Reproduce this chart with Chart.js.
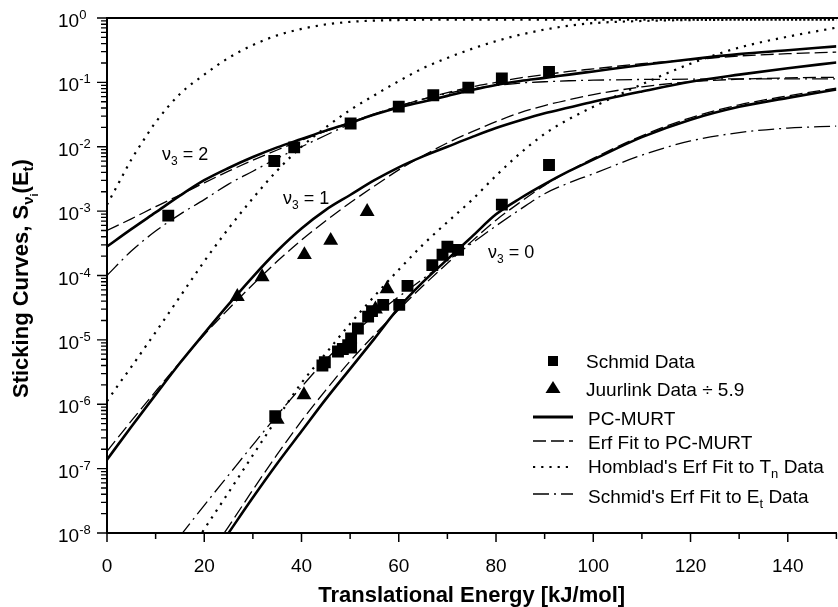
<!DOCTYPE html>
<html><head><meta charset="utf-8">
<script src="https://cdn.jsdelivr.net/npm/chart.js@4.4.1/dist/chart.umd.min.js"></script>
<style>html,body{margin:0;padding:0;overflow:hidden;background:#fff;width:838px;height:607px}canvas{display:block}</style>
</head><body>
<canvas id="c" width="845" height="607"></canvas>
<script>
// ---------- data ----------
const energy = [0,2.5,5,7.5,10,15,20,25,30,35,40,45,50,55,60,65,70,75,80,85,90,95,100,110,120,130,140,150];

// v3 = 2
const pcMurtV2    = [2.82e-4,null,5.25e-4,null,9.55e-4,1.74e-3,3.02e-3,4.68e-3,6.92e-3,9.77e-3,1.32e-2,1.78e-2,2.34e-2,3.16e-2,4.07e-2,5.01e-2,6.17e-2,7.59e-2,9.12e-2,0.105,0.1175,0.132,0.148,0.186,0.229,0.275,0.316,0.363];
const erfFitV2    = [5.01e-4,null,7.59e-4,null,1.175e-3,1.78e-3,2.75e-3,4.17e-3,6.17e-3,8.91e-3,1.26e-2,1.74e-2,2.40e-2,3.24e-2,4.27e-2,5.50e-2,6.92e-2,8.51e-2,0.100,0.1175,0.132,0.148,0.162,0.195,0.224,0.257,0.279,0.295];
const hombladV2   = [1.26e-3,2.82e-3,6.31e-3,1.26e-2,2.40e-2,6.61e-2,0.132,0.240,0.380,0.537,0.676,0.794,0.871,0.912,0.93,0.94,0.945,0.945,0.945,0.945,0.945,0.945,0.945,0.945,0.945,0.945,0.945,0.945];
const schmidFitV2 = [1.0e-4,null,2.40e-4,null,4.90e-4,8.91e-4,1.51e-3,2.63e-3,4.17e-3,6.61e-3,1.0e-2,1.51e-2,2.24e-2,3.16e-2,4.27e-2,5.50e-2,6.76e-2,7.94e-2,8.91e-2,9.77e-2,0.1023,0.106,0.108,0.111,0.112,0.1135,0.1135,0.1135];

// v3 = 1
const pcMurtV1    = [1.38e-7,null,4.47e-7,null,1.41e-6,4.37e-6,1.26e-5,3.55e-5,9.55e-5,2.40e-4,5.37e-4,1.047e-3,1.78e-3,3.02e-3,4.79e-3,7.08e-3,1.0e-2,1.41e-2,1.95e-2,2.57e-2,3.31e-2,4.07e-2,5.01e-2,7.24e-2,0.1023,0.132,0.166,0.204];
const erfFitV1    = [1.86e-7,null,5.50e-7,null,1.585e-6,4.47e-6,1.20e-5,3.02e-5,7.24e-5,1.66e-4,3.55e-4,7.08e-4,1.35e-3,2.45e-3,4.37e-3,7.24e-3,1.148e-2,1.70e-2,2.45e-2,3.39e-2,4.37e-2,5.37e-2,6.46e-2,8.51e-2,0.1023,0.112,0.1175,0.120];
const hombladV1   = [1.12e-6,2.09e-6,3.80e-6,7.08e-6,1.32e-5,4.68e-5,1.66e-4,5.37e-4,1.585e-3,4.27e-3,1.0e-2,2.0e-2,3.72e-2,6.31e-2,0.1047,0.166,0.240,0.331,0.437,0.550,0.661,0.759,0.832,0.90,0.93,0.94,0.945,0.945];

// v3 = 0
const pcMurtV0    = [null,null,null,null,null,null,2.82e-9,1.0e-8,3.55e-8,1.20e-7,3.80e-7,1.20e-6,3.55e-6,1.047e-5,3.16e-5,7.94e-5,1.78e-4,3.98e-4,8.91e-4,1.585e-3,2.63e-3,4.17e-3,6.31e-3,1.41e-2,2.63e-2,4.17e-2,5.75e-2,7.76e-2];
const erfFitV0    = [null,null,null,null,null,null,3.55e-9,1.26e-8,4.68e-8,1.66e-7,5.50e-7,1.66e-6,4.68e-6,1.20e-5,2.95e-5,6.92e-5,1.55e-4,3.39e-4,7.24e-4,1.38e-3,2.51e-3,4.17e-3,6.61e-3,1.48e-2,2.82e-2,4.47e-2,6.17e-2,8.13e-2];
const hombladV0   = [null,null,null,null,null,3.02e-9,1.148e-8,4.27e-8,1.62e-7,6.03e-7,2.14e-6,6.17e-6,1.78e-5,4.79e-5,1.23e-4,3.02e-4,6.76e-4,1.48e-3,3.55e-3,7.94e-3,1.585e-2,2.69e-2,4.17e-2,9.33e-2,0.195,0.347,0.513,0.708];
const schmidFitV0 = [null,null,null,null,null,8.91e-9,2.69e-8,7.94e-8,2.34e-7,6.76e-7,1.86e-6,4.90e-6,1.12e-5,2.40e-5,4.68e-5,8.91e-5,1.70e-4,3.16e-4,5.89e-4,1.07e-3,1.86e-3,2.75e-3,3.80e-3,7.41e-3,1.23e-2,1.66e-2,1.95e-2,2.09e-2];

// measured points
const schmidE = [12.6,34.4,38.5,50.1,60.0,67.1,74.3,81.2,90.9, 34.6,44.3,44.8,47.5,48.5,49.6,50.2,50.2,51.6,53.7,54.5,56.8,60.1,61.8,66.9,69.0,70.0,72.2,81.2,90.9];
const schmidS = [8.5e-4,6.0e-3,9.8e-3,2.3e-2,4.2e-2,6.3e-2,8.3e-2,0.115,0.145, 6.5e-7,4.0e-6,4.5e-6,6.6e-6,7.2e-6,8.3e-6,1.05e-5,7.6e-6,1.5e-5,2.3e-5,2.8e-5,3.5e-5,3.5e-5,6.9e-5,1.45e-4,2.1e-4,2.8e-4,2.5e-4,1.26e-3,5.2e-3];
const juurlinkE = [26.8,31.9,40.6,46.0,53.5, 35.0,40.5,55.2,57.6];
const juurlinkS = [4.7e-5,9.5e-5,2.1e-4,3.5e-4,9.8e-4, 5.8e-7,1.4e-6,3.0e-5,6.2e-5];

// ticks and text
const xTickValues = [0,20,40,60,80,100,120,140];
const xTickLabels = ['0','20','40','60','80','100','120','140'];
const xMinorTicks = [10,30,50,70,90,110,130,150];
const yTickValues = [1,1e-1,1e-2,1e-3,1e-4,1e-5,1e-6,1e-7,1e-8];
const yTickExponents = ['0','-1','-2','-3','-4','-5','-6','-7','-8'];
const xTitle = 'Translational Energy [kJ/mol]';
const legendLabels = ['Schmid Data','Juurlink Data \u00f7 5.9','PC-MURT','Erf Fit to PC-MURT',"Homblad's Erf Fit to T","Schmid's Erf Fit to E"];
const nuLevels = ['2','1','0'];

// ---------- chart ----------
const FONT = '"Liberation Sans", Arial, Helvetica, sans-serif';
Chart.defaults.font.family = FONT;
Chart.defaults.color = '#000';

const curve = arr => energy.map((e,i)=>({x:e,y:arr[i]})).filter(p=>p.y!==null);
const pts = (xs,ys) => xs.map((e,i)=>({x:e,y:ys[i]}));

const STY = {
  solid:   {borderWidth:2.6, borderDash:[]},
  dashed:  {borderWidth:1.3, borderDash:[13,5]},
  dotted:  {borderWidth:2.2, borderDash:[2.2,6]},
  dashdot: {borderWidth:1.3, borderDash:[16,5,2,5]}
};
const lineDs = (arr, st) => Object.assign({type:'line', data:curve(arr), borderColor:'#000', backgroundColor:'#000',
  pointRadius:0, fill:false, cubicInterpolationMode:'monotone'}, STY[st]);

function rich(ctx, x, y, parts){
  for (const p of parts){
    ctx.font = (p.b?'bold ':'') + p.s + 'px ' + FONT;
    ctx.fillText(p.t, x, y + (p.d||0));
    x += ctx.measureText(p.t).width;
  }
  return x;
}

const decor = {
  id:'decor',
  afterDraw(chart){
    const {ctx, chartArea:a, scales:{x, y}} = chart;
    ctx.save();
    ctx.fillStyle = '#000'; ctx.strokeStyle = '#000';
    ctx.textAlign = 'left'; ctx.textBaseline = 'alphabetic';
    // top frame
    ctx.lineWidth = 2;
    ctx.beginPath(); ctx.moveTo(a.left-1, a.top); ctx.lineTo(a.right+4, a.top); ctx.stroke();
    // x tick marks
    ctx.lineWidth = 1.5;
    ctx.beginPath();
    xTickValues.forEach(v=>{ const p = x.getPixelForValue(v); ctx.moveTo(p, a.bottom); ctx.lineTo(p, a.bottom+9); });
    xMinorTicks.forEach(v=>{ const p = x.getPixelForValue(v); ctx.moveTo(p, a.bottom); ctx.lineTo(p, a.bottom+6); });
    ctx.stroke();
    // y tick marks (log minor ticks)
    ctx.lineWidth = 1.3;
    ctx.beginPath();
    yTickValues.forEach(v=>{ const p = y.getPixelForValue(v); ctx.moveTo(a.left, p); ctx.lineTo(a.left-10, p); });
    for (let i = 1; i < yTickValues.length; i++){
      for (let k = 2; k <= 9; k++){
        const p = y.getPixelForValue(k*yTickValues[i]);
        ctx.moveTo(a.left, p); ctx.lineTo(a.left-6, p);
      }
    }
    ctx.stroke();
    // y tick labels 10^n
    yTickValues.forEach((v,i)=>{
      const p = y.getPixelForValue(v);
      rich(ctx, 58, p+9, [{t:'10', s:19}, {t:yTickExponents[i], s:13, d:-8}]);
    });
    // y title
    ctx.save();
    ctx.translate(28, 398); ctx.rotate(-Math.PI/2);
    rich(ctx, 0, 0, [{t:'Sticking Curves, S', s:22, b:1},{t:'\u03bd', s:15, b:1, d:5},{t:'i', s:11, b:1, d:10},
      {t:'(E', s:22, b:1},{t:'t', s:15, b:1, d:5},{t:')', s:22, b:1}]);
    ctx.restore();
    // nu labels
    const nuPos = [[162,160],[283,204],[488,258]];
    nuLevels.forEach((lv,i)=>{
      rich(ctx, nuPos[i][0], nuPos[i][1], [{t:'\u03bd', s:18},{t:'3', s:12, d:5},{t:' = '+lv, s:18}]);
    });
    // legend
    ctx.fillRect(548, 356, 10, 10);
    ctx.beginPath(); ctx.moveTo(553, 381); ctx.lineTo(560.5, 393); ctx.lineTo(545.5, 393); ctx.closePath(); ctx.fill();
    const samp = [['solid',417],['dashed',441],['dotted',467],['dashdot',494]];
    samp.forEach(([st,yy])=>{
      ctx.lineWidth = st==='solid' ? 3 : STY[st].borderWidth;
      ctx.setLineDash(STY[st].borderDash);
      ctx.beginPath(); ctx.moveTo(533, yy); ctx.lineTo(573, yy); ctx.stroke();
    });
    ctx.setLineDash([]);
    rich(ctx, 586, 368, [{t:legendLabels[0], s:19}]);
    rich(ctx, 586, 396, [{t:legendLabels[1], s:19}]);
    rich(ctx, 588, 425, [{t:legendLabels[2], s:19}]);
    rich(ctx, 588, 449, [{t:legendLabels[3], s:19}]);
    rich(ctx, 588, 473, [{t:legendLabels[4], s:19},{t:'n', s:13, d:5},{t:' Data', s:19}]);
    rich(ctx, 588, 503, [{t:legendLabels[5], s:19},{t:'t', s:13, d:5},{t:' Data', s:19}]);
    ctx.restore();
  }
};

new Chart(document.getElementById('c'), {
  type:'scatter',
  data:{ datasets:[
    {type:'scatter', label:'Schmid Data', data:pts(schmidE, schmidS), pointStyle:'rect', pointRadius:8.4, backgroundColor:'#000', borderColor:'#000', borderWidth:0},
    {type:'scatter', label:'Juurlink Data', data:pts(juurlinkE, juurlinkS), pointStyle:'triangle', pointRadius:8.6, backgroundColor:'#000', borderColor:'#000', borderWidth:0},
    lineDs(pcMurtV2,'solid'), lineDs(erfFitV2,'dashed'), lineDs(hombladV2,'dotted'), lineDs(schmidFitV2,'dashdot'),
    lineDs(pcMurtV1,'solid'), lineDs(erfFitV1,'dashed'), lineDs(hombladV1,'dotted'),
    lineDs(pcMurtV0,'solid'), lineDs(erfFitV0,'dashed'), lineDs(hombladV0,'dotted'), lineDs(schmidFitV0,'dashdot')
  ]},
  options:{
    responsive:false, animation:false, devicePixelRatio:1,
    layout:{padding:{left:0, right:4, top:18, bottom:0}},
    plugins:{legend:{display:false}, tooltip:{enabled:false}},
    scales:{
      x:{type:'linear', position:'bottom', min:0, max:150,
        grid:{display:false, drawTicks:false},
        border:{display:true, width:2, color:'#000'},
        ticks:{stepSize:20, includeBounds:false, autoSkip:false, maxRotation:0, padding:22, font:{size:19}, color:'#000',
          callback:v=>{ const i = xTickValues.indexOf(v); return i<0 ? '' : xTickLabels[i]; }},
        title:{display:true, text:xTitle, font:{size:22, weight:'bold', lineHeight:1}, color:'#000', padding:{top:0,bottom:0}},
        afterFit:s=>{ s.height = 74; }
      },
      y:{type:'logarithmic', position:'left', min:1e-8, max:1,
        grid:{display:false, drawTicks:false},
        border:{display:true, width:2, color:'#000'},
        ticks:{display:false},
        afterFit:s=>{ s.width = 107; }
      }
    }
  },
  plugins:[decor]
});
</script>
</body></html>
